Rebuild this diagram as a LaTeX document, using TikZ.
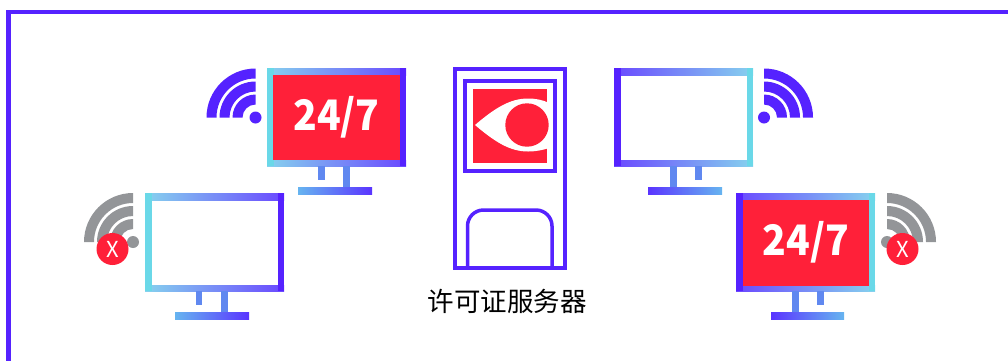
\documentclass[tikz,border=0pt]{standalone}
\usepackage{fontspec}
\newfontfamily\cjk{Noto Sans CJK SC}
\usepackage{xcolor}
\usepackage{tikz}
\definecolor{violet}{HTML}{5522FF}
\definecolor{sky}{HTML}{6AD8E8}
\definecolor{barsky}{HTML}{86D2EE}
\definecolor{barviolet}{HTML}{6A48FF}
\definecolor{basesky}{HTML}{66B4F0}
\definecolor{baseviolet}{HTML}{5A34FF}
\definecolor{stem}{HTML}{6088F0}
\definecolor{alarm}{HTML}{FF2039}
\definecolor{offline}{HTML}{939598}
\tikzset{
	alarmtext/.style={text=white,font=\cjk\bfseries\fontsize{42}{42}\selectfont},
	crosstext/.style={text=white,font=\cjk\fontsize{22}{22}\selectfont},
	frameline/.style={draw=violet,line width=4.4pt},
}
\newcommand{\clocktext}{\scalebox{.93}[1]{24/7}}
% #1,#2 corner, #3,#4 side bars, #5,#6 top and bottom bars
\newcommand{\monitor}[6]{
	\fill[left color=#5,right color=#6] (#1,#2) rectangle ++(139,7);
	\fill[left color=#5,right color=#6] (#1,#2+92) rectangle ++(139,6);
	\fill[#3] (#1,#2) rectangle ++(6.5,98);
	\fill[#4] (#1+132.5,#2) rectangle ++(6.5,98);
}
\newcommand{\wifi}[4]{
	\begin{scope}[shift={(#1,#2)},xscale=#3]
		\foreach \ro/\ri in {49/39,36/26,23/13}
			\fill[#4] (-\ro,0) arc (180:270:\ro) -- (0,-\ri) arc (270:180:\ri) -- cycle;
		\fill[#4] (0,0) circle (6);
	\end{scope}
}
\begin{document}
\begin{tikzpicture}[x=1pt,y=-1pt]
	\useasboundingbox (0,0) rectangle (1008,360);
	\draw[frameline] (8.3,362)--(8.3,11.8)--(1010,11.8);
	% monitors
	\monitor{267}{68}{sky}{violet}{barsky}{barviolet}
	\fill[stem] (318,166) rectangle (325,180);
	\fill[stem] (343,166) rectangle (350,187);
	\fill[left color=basesky,right color=baseviolet] (298,187) rectangle (372,194);
	\monitor{145}{193}{sky}{violet}{barsky}{barviolet}
	\fill[stem] (196,291) rectangle (202,305);
	\fill[stem] (221,291) rectangle (228,312);
	\fill[left color=basesky,right color=baseviolet] (175,312) rectangle (249,319);
	\monitor{614}{68}{violet}{sky}{barviolet}{barsky}
	\fill[stem] (670,166) rectangle (677,187);
	\fill[stem] (695,166) rectangle (702,180);
	\fill[left color=baseviolet,right color=basesky] (648,187) rectangle (722,194);
	\monitor{736}{193}{violet}{sky}{barviolet}{barsky}
	\fill[stem] (792,291) rectangle (799,312);
	\fill[stem] (817,291) rectangle (824,305);
	\fill[left color=baseviolet,right color=basesky] (771,312) rectangle (844,319);
	% screens
	\node[fill=alarm,minimum width=127pt,minimum height=85pt,inner sep=0pt,alarmtext] (screenA) at (336.5,117.5) {\clocktext};
	\node[fill=alarm,minimum width=126pt,minimum height=86pt,inner sep=0pt,alarmtext] (screenB) at (806,242.5) {\clocktext};
	% wifi
	\wifi{255.5}{117.5}{1}{violet}
	\wifi{764}{117.5}{-1}{violet}
	\wifi{133}{242}{1}{offline}
	\wifi{887}{242}{-1}{offline}
	\node[circle,fill=alarm,minimum size=32pt,inner sep=0pt,crosstext] (crossA) at (112.5,249) {X};
	\node[circle,fill=alarm,minimum size=32pt,inner sep=0pt,crosstext] (crossB) at (902.5,249) {X};
	% server
	\draw[draw=violet,line width=4pt] (455,69) rectangle (565,268);
	\draw[draw=violet,line width=4pt] (465,81) rectangle (555,170.5);
	\fill[alarm] (473,89) rectangle (547,163);
	\begin{scope}
		\clip (473,89) rectangle (547,163);
		\fill[white] (475,125) .. controls (495,108) and (510,98.5) .. (528,98.5)
			.. controls (536,98.5) and (543,100) .. (549,103) -- (549,148)
			.. controls (543,150) and (536,151.5) .. (528,151.5)
			.. controls (510,151.5) and (495,142) .. (475,125) -- cycle;
	\end{scope}
	\fill[alarm] (527,125) circle (21.7);
	\draw[draw=violet,line width=3.5pt] (467.5,268) -- (467.5,226) arc (180:270:16) -- (536,210) arc (270:360:16) -- (552,268);
	\node[font=\cjk\fontsize{26.5}{26.5}\selectfont] (serverlabel) at (507,301) {许可证服务器};
\end{tikzpicture}
\end{document}
